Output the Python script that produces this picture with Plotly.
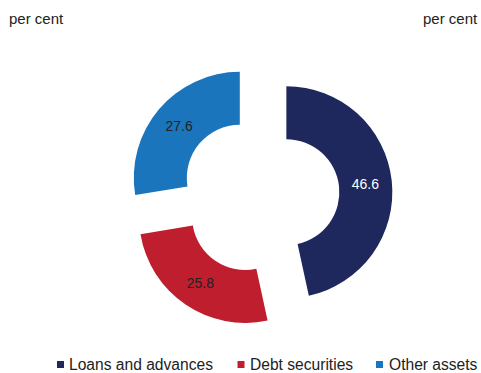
import plotly.graph_objects as go

labels = ["Loans and advances", "Debt securities", "Other assets"]
values = [46.6, 25.8, 27.6]
colors = ["#1F285C", "#BE1E2D", "#1B75BC"]
text_colors = ["#FFFFFF", "#222222", "#222222"]
unit_label = "per cent"

W, H = 481, 373
cx, cy, half = 260, 195, 132.5
FONT = "Liberation Sans, Arial"

fig = go.Figure(go.Pie(
    labels=labels, values=values, sort=False, direction="clockwise", rotation=0,
    hole=0.5, pull=[0.25, 0.25, 0.25],
    marker=dict(colors=colors, line=dict(width=0)),
    texttemplate="%{value:.1f}", textinfo="value", textposition="inside",
    insidetextorientation="horizontal",
    textfont=dict(color=text_colors, size=14, family=FONT),
    hoverinfo="skip", showlegend=False,
    domain=dict(x=[(cx - half) / W, (cx + half) / W], y=[(H - cy - half) / H, (H - cy + half) / H]),
))

# custom legend (pixel layout)
sq_x = [57, 237.5, 376]
txt_x = [68, 249, 388]
sq_size = 7
leg_y = 364.5
shapes, annotations = [], []
for lab, col, sx, tx in zip(labels, colors, sq_x, txt_x):
    shapes.append(dict(type="rect", xref="paper", yref="paper",
                       x0=sx / W, x1=(sx + sq_size) / W,
                       y0=1 - 368 / H, y1=1 - 361 / H,
                       fillcolor=col, line=dict(width=0)))
    annotations.append(dict(text=lab, x=tx / W, y=1 - leg_y / H, xref="paper", yref="paper",
                            xanchor="left", yanchor="middle", showarrow=False,
                            xshift=-1, font=dict(size=15.6, family=FONT, color="#222222")))

annotations += [
    dict(text=unit_label, x=8 / W, y=1 - 18 / H, xref="paper", yref="paper",
         xanchor="left", yanchor="middle", showarrow=False, xshift=-1,
         font=dict(size=15, family=FONT, color="#222222")),
    dict(text=unit_label, x=479 / W, y=1 - 18 / H, xref="paper", yref="paper",
         xanchor="right", yanchor="middle", showarrow=False, xshift=1,
         font=dict(size=15, family=FONT, color="#222222")),
]

fig.update_layout(
    width=W, height=H, margin=dict(l=0, r=0, t=0, b=0),
    paper_bgcolor="white", plot_bgcolor="white",
    font=dict(family=FONT, size=14, color="#222222"),
    showlegend=False, shapes=shapes, annotations=annotations,
)

fig.write_html("out.html", config={"displayModeBar": False},
               post_script="document.body.style.margin='0';")
